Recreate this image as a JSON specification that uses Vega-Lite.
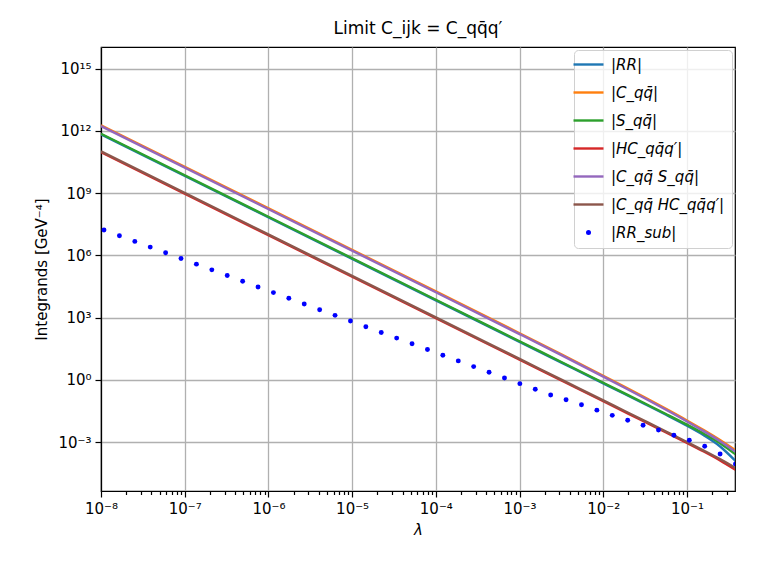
{
  "$schema": "https://vega.github.io/schema/vega-lite/v6.json",
  "description": "Limit C_ijk = C_qq̄q′ integrands vs lambda",
  "autosize": "none",
  "padding": {"left": 101, "top": 47, "right": 22, "bottom": 77},
  "width": 634,
  "height": 444,
  "background": "white",
  "title": {
    "text": "Limit C_ijk = C_qq̄q′",
    "font": "DejaVu Sans",
    "fontSize": 17,
    "fontWeight": "normal",
    "color": "black",
    "anchor": "middle",
    "offset": 9
  },
  "config": {
    "font": "DejaVu Sans",
    "view": {"stroke": "black", "strokeWidth": 1.2},
    "axis": {
      "domainColor": "black",
      "domainWidth": 1.2,
      "tickColor": "black",
      "tickWidth": 1.2,
      "labelFont": "DejaVu Sans",
      "labelFontSize": 15,
      "labelColor": "black",
      "titleFont": "DejaVu Sans",
      "titleFontSize": 15,
      "titleFontWeight": "normal",
      "titleColor": "black",
      "gridColor": "#b0b0b0",
      "gridWidth": 1.3
    }
  },
  "datasets": {
    "lines": [
      {"s": "|RR|", "x": 1e-8, "y": 6.761e11},
      {"s": "|RR|", "x": 1e-4, "y": 6761},
      {"s": "|RR|", "x": 1e-3, "y": 67.61},
      {"s": "|RR|", "x": 3.162e-3, "y": 6.761},
      {"s": "|RR|", "x": 0.01, "y": 0.6754},
      {"s": "|RR|", "x": 0.01778, "y": 0.2132},
      {"s": "|RR|", "x": 0.03162, "y": 0.06699},
      {"s": "|RR|", "x": 0.05623, "y": 0.02077},
      {"s": "|RR|", "x": 0.1, "y": 6.166e-3},
      {"s": "|RR|", "x": 0.1585, "y": 2.138e-3},
      {"s": "|RR|", "x": 0.2512, "y": 5.998e-4},
      {"s": "|RR|", "x": 0.38, "y": 1.236e-4},
      {"s": "|C_qq̄|", "x": 1e-8, "y": 1.862e12},
      {"s": "|C_qq̄|", "x": 1e-4, "y": 1.832e4},
      {"s": "|C_qq̄|", "x": 1e-3, "y": 177.0},
      {"s": "|C_qq̄|", "x": 3.162e-3, "y": 17.02},
      {"s": "|C_qq̄|", "x": 0.01, "y": 1.585},
      {"s": "|C_qq̄|", "x": 0.01778, "y": 0.4753},
      {"s": "|C_qq̄|", "x": 0.03162, "y": 0.1396},
      {"s": "|C_qq̄|", "x": 0.05623, "y": 0.03999},
      {"s": "|C_qq̄|", "x": 0.1, "y": 0.01107},
      {"s": "|C_qq̄|", "x": 0.1585, "y": 3.784e-3},
      {"s": "|C_qq̄|", "x": 0.2512, "y": 1.222e-3},
      {"s": "|C_qq̄|", "x": 0.38, "y": 4.046e-4},
      {"s": "|S_qq̄|", "x": 1e-8, "y": 7.244e11},
      {"s": "|S_qq̄|", "x": 1e-4, "y": 7244},
      {"s": "|S_qq̄|", "x": 1e-3, "y": 72.44},
      {"s": "|S_qq̄|", "x": 3.162e-3, "y": 7.244},
      {"s": "|S_qq̄|", "x": 0.01, "y": 0.7241},
      {"s": "|S_qq̄|", "x": 0.01778, "y": 0.2288},
      {"s": "|S_qq̄|", "x": 0.03162, "y": 0.07211},
      {"s": "|S_qq̄|", "x": 0.05623, "y": 0.02258},
      {"s": "|S_qq̄|", "x": 0.1, "y": 6.918e-3},
      {"s": "|S_qq̄|", "x": 0.1585, "y": 2.57e-3},
      {"s": "|S_qq̄|", "x": 0.2512, "y": 8.59e-4},
      {"s": "|S_qq̄|", "x": 0.38, "y": 2.576e-4},
      {"s": "|HC_qq̄q′|", "x": 1e-8, "y": 9.333e10},
      {"s": "|HC_qq̄q′|", "x": 1e-4, "y": 933.3},
      {"s": "|HC_qq̄q′|", "x": 1e-3, "y": 9.333},
      {"s": "|HC_qq̄q′|", "x": 3.162e-3, "y": 0.9333},
      {"s": "|HC_qq̄q′|", "x": 0.01, "y": 0.09331},
      {"s": "|HC_qq̄q′|", "x": 0.01778, "y": 0.02949},
      {"s": "|HC_qq̄q′|", "x": 0.03162, "y": 9.311e-3},
      {"s": "|HC_qq̄q′|", "x": 0.05623, "y": 2.929e-3},
      {"s": "|HC_qq̄q′|", "x": 0.1, "y": 9.12e-4},
      {"s": "|HC_qq̄q′|", "x": 0.1585, "y": 3.508e-4},
      {"s": "|HC_qq̄q′|", "x": 0.2512, "y": 1.279e-4},
      {"s": "|HC_qq̄q′|", "x": 0.38, "y": 4.634e-5},
      {"s": "|C_qq̄ S_qq̄|", "x": 1e-8, "y": 1.698e12},
      {"s": "|C_qq̄ S_qq̄|", "x": 1e-4, "y": 1.671e4},
      {"s": "|C_qq̄ S_qq̄|", "x": 1e-3, "y": 161.1},
      {"s": "|C_qq̄ S_qq̄|", "x": 3.162e-3, "y": 15.49},
      {"s": "|C_qq̄ S_qq̄|", "x": 0.01, "y": 1.439},
      {"s": "|C_qq̄ S_qq̄|", "x": 0.01778, "y": 0.4305},
      {"s": "|C_qq̄ S_qq̄|", "x": 0.03162, "y": 0.1262},
      {"s": "|C_qq̄ S_qq̄|", "x": 0.05623, "y": 0.03606},
      {"s": "|C_qq̄ S_qq̄|", "x": 0.1, "y": 9.908e-3},
      {"s": "|C_qq̄ S_qq̄|", "x": 0.1585, "y": 3.373e-3},
      {"s": "|C_qq̄ S_qq̄|", "x": 0.2512, "y": 1.074e-3},
      {"s": "|C_qq̄ S_qq̄|", "x": 0.38, "y": 3.459e-4},
      {"s": "|C_qq̄ HC_qq̄q′|", "x": 1e-8, "y": 1.023e11},
      {"s": "|C_qq̄ HC_qq̄q′|", "x": 1e-4, "y": 1023},
      {"s": "|C_qq̄ HC_qq̄q′|", "x": 1e-3, "y": 10.23},
      {"s": "|C_qq̄ HC_qq̄q′|", "x": 3.162e-3, "y": 1.023},
      {"s": "|C_qq̄ HC_qq̄q′|", "x": 0.01, "y": 0.1023},
      {"s": "|C_qq̄ HC_qq̄q′|", "x": 0.01778, "y": 0.03234},
      {"s": "|C_qq̄ HC_qq̄q′|", "x": 0.03162, "y": 0.01022},
      {"s": "|C_qq̄ HC_qq̄q′|", "x": 0.05623, "y": 3.22e-3},
      {"s": "|C_qq̄ HC_qq̄q′|", "x": 0.1, "y": 1.007e-3},
      {"s": "|C_qq̄ HC_qq̄q′|", "x": 0.1585, "y": 3.912e-4},
      {"s": "|C_qq̄ HC_qq̄q′|", "x": 0.2512, "y": 1.466e-4},
      {"s": "|C_qq̄ HC_qq̄q′|", "x": 0.38, "y": 5.61e-5}
    ],
    "dots": [
      {"s": "|RR_sub|", "x": 1.086e-8, "y": 1.66e7},
      {"s": "|RR_sub|", "x": 1.66e-8, "y": 8.831e6},
      {"s": "|RR_sub|", "x": 2.535e-8, "y": 4.699e6},
      {"s": "|RR_sub|", "x": 3.873e-8, "y": 2.495e6},
      {"s": "|RR_sub|", "x": 5.916e-8, "y": 1.327e6},
      {"s": "|RR_sub|", "x": 9.036e-8, "y": 7.063e5},
      {"s": "|RR_sub|", "x": 1.38e-7, "y": 3.758e5},
      {"s": "|RR_sub|", "x": 2.109e-7, "y": 2.0e5},
      {"s": "|RR_sub|", "x": 3.221e-7, "y": 1.064e5},
      {"s": "|RR_sub|", "x": 4.92e-7, "y": 5.662e4},
      {"s": "|RR_sub|", "x": 7.516e-7, "y": 3.006e4},
      {"s": "|RR_sub|", "x": 1.148e-6, "y": 1.6e4},
      {"s": "|RR_sub|", "x": 1.754e-6, "y": 8511},
      {"s": "|RR_sub|", "x": 2.679e-6, "y": 4529},
      {"s": "|RR_sub|", "x": 4.093e-6, "y": 2410},
      {"s": "|RR_sub|", "x": 6.252e-6, "y": 1282},
      {"s": "|RR_sub|", "x": 9.55e-6, "y": 680.8},
      {"s": "|RR_sub|", "x": 1.459e-5, "y": 362.2},
      {"s": "|RR_sub|", "x": 2.228e-5, "y": 192.8},
      {"s": "|RR_sub|", "x": 3.404e-5, "y": 102.6},
      {"s": "|RR_sub|", "x": 5.2e-5, "y": 54.58},
      {"s": "|RR_sub|", "x": 7.943e-5, "y": 29.04},
      {"s": "|RR_sub|", "x": 1.213e-4, "y": 15.42},
      {"s": "|RR_sub|", "x": 1.854e-4, "y": 8.204},
      {"s": "|RR_sub|", "x": 2.831e-4, "y": 4.365},
      {"s": "|RR_sub|", "x": 4.325e-4, "y": 2.323},
      {"s": "|RR_sub|", "x": 6.607e-4, "y": 1.236},
      {"s": "|RR_sub|", "x": 1.009e-3, "y": 0.6577},
      {"s": "|RR_sub|", "x": 1.542e-3, "y": 0.3499},
      {"s": "|RR_sub|", "x": 2.355e-3, "y": 0.1862},
      {"s": "|RR_sub|", "x": 3.597e-3, "y": 0.1096},
      {"s": "|RR_sub|", "x": 5.495e-3, "y": 0.0631},
      {"s": "|RR_sub|", "x": 8.395e-3, "y": 0.03467},
      {"s": "|RR_sub|", "x": 0.01282, "y": 0.0195},
      {"s": "|RR_sub|", "x": 0.01959, "y": 0.01122},
      {"s": "|RR_sub|", "x": 0.02992, "y": 6.457e-3},
      {"s": "|RR_sub|", "x": 0.04571, "y": 3.802e-3},
      {"s": "|RR_sub|", "x": 0.06982, "y": 2.138e-3},
      {"s": "|RR_sub|", "x": 0.1067, "y": 1.23e-3},
      {"s": "|RR_sub|", "x": 0.1629, "y": 6.31e-4},
      {"s": "|RR_sub|", "x": 0.2489, "y": 2.692e-4},
      {"s": "|RR_sub|", "x": 0.3802, "y": 8.913e-5}
    ]
  },
  "encoding": {
    "x": {
      "field": "x",
      "type": "quantitative",
      "scale": {"type": "log", "domain": [1e-8, 0.375], "nice": false},
      "axis": {
        "title": "λ",
        "titleFontStyle": "italic",
        "titlePadding": 6,
        "values": [1e-8, 2e-8, 3e-8, 4e-8, 5e-8, 6e-8, 7e-8, 8e-8, 9e-8, 1e-7, 2e-7, 3e-7, 4e-7, 5e-7, 6e-7, 7e-7, 8e-7, 9e-7, 1e-6, 2e-6, 3e-6, 4e-6, 5e-6, 6e-6, 7e-6, 8e-6, 9e-6, 1e-5, 2e-5, 3e-5, 4e-5, 5e-5, 6e-5, 7e-5, 8e-5, 9e-5, 1e-4, 2e-4, 3e-4, 4e-4, 5e-4, 6e-4, 7e-4, 8e-4, 9e-4, 1e-3, 2e-3, 3e-3, 4e-3, 5e-3, 6e-3, 7e-3, 8e-3, 9e-3, 1e-2, 2e-2, 3e-2, 4e-2, 5e-2, 6e-2, 7e-2, 8e-2, 9e-2, 0.1, 0.2, 0.3],
        "labelExpr": "abs(log(datum.value)/LN10 - round(log(datum.value)/LN10)) < 1e-6 ? '10' + replace(replace(replace(replace(replace(replace(replace(replace(replace(replace(replace(toString(round(log(datum.value)/LN10)),'-','⁻'),'0','⁰'),'1','¹'),'2','²'),'3','³'),'4','⁴'),'5','⁵'),'6','⁶'),'7','⁷'),'8','⁸'),'9','⁹') : ''",
        "labelFlush": false,
        "labelOverlap": false,
        "labelPadding": 4,
        "tickSize": {"condition": {"test": "abs(log(datum.value)/LN10 - round(log(datum.value)/LN10)) < 1e-6", "value": 6}, "value": 3.5},
        "gridOpacity": {"condition": {"test": "abs(log(datum.value)/LN10 - round(log(datum.value)/LN10)) < 1e-6", "value": 1}, "value": 0}
      }
    },
    "y": {
      "field": "y",
      "type": "quantitative",
      "scale": {"type": "log", "domain": [4.4e-6, 1.1e16], "nice": false},
      "axis": {
        "title": "Integrands [GeV⁻⁴]",
        "titlePadding": 8,
        "values": [1e-3, 1, 1e3, 1e6, 1e9, 1e12, 1e15],
        "labelExpr": "'10' + replace(replace(replace(replace(replace(replace(replace(replace(replace(replace(replace(toString(round(log(datum.value)/LN10)),'-','⁻'),'0','⁰'),'1','¹'),'2','²'),'3','³'),'4','⁴'),'5','⁵'),'6','⁶'),'7','⁷'),'8','⁸'),'9','⁹')",
        "labelFlush": false,
        "labelOverlap": false,
        "labelPadding": 4,
        "tickSize": 6
      }
    },
    "color": {
      "field": "s",
      "type": "nominal",
      "scale": {
        "domain": ["|RR|", "|C_qq̄|", "|S_qq̄|", "|HC_qq̄q′|", "|C_qq̄ S_qq̄|", "|C_qq̄ HC_qq̄q′|", "|RR_sub|"],
        "range": ["#1f77b4", "#ff7f0e", "#2ca02c", "#d62728", "#9467bd", "#8c564b", "#0000ff"]
      },
      "legend": {
        "title": null,
        "orient": "top-right",
        "offset": 3,
        "padding": 7,
        "fillColor": "rgba(255,255,255,0.8)",
        "strokeColor": "#d0d0d0",
        "cornerRadius": 4,
        "labelFont": "DejaVu Sans",
        "labelFontSize": 15,
        "labelFontStyle": "italic",
        "labelColor": "black",
        "labelOffset": 15,
        "rowPadding": 12,
        "symbolType": "stroke",
        "symbolSize": 900,
        "symbolStrokeWidth": 2.4,
        "encode": {
          "symbols": {
            "update": {
              "shape": {"signal": "datum.value === '|RR_sub|' ? 'circle' : 'stroke'"},
              "size": {"signal": "datum.value === '|RR_sub|' ? 25 : 900"},
              "fill": {"signal": "datum.value === '|RR_sub|' ? '#0000ff' : 'transparent'"},
              "strokeWidth": {"signal": "datum.value === '|RR_sub|' ? 0 : 2.4"}
            }
          }
        }
      }
    }
  },
  "layer": [
    {
      "data": {"name": "lines"},
      "mark": {"type": "line", "strokeWidth": 2.4, "clip": true, "interpolate": "monotone"}
    },
    {
      "data": {"name": "dots"},
      "mark": {"type": "point", "filled": true, "size": 24, "opacity": 1, "clip": true}
    }
  ]
}
